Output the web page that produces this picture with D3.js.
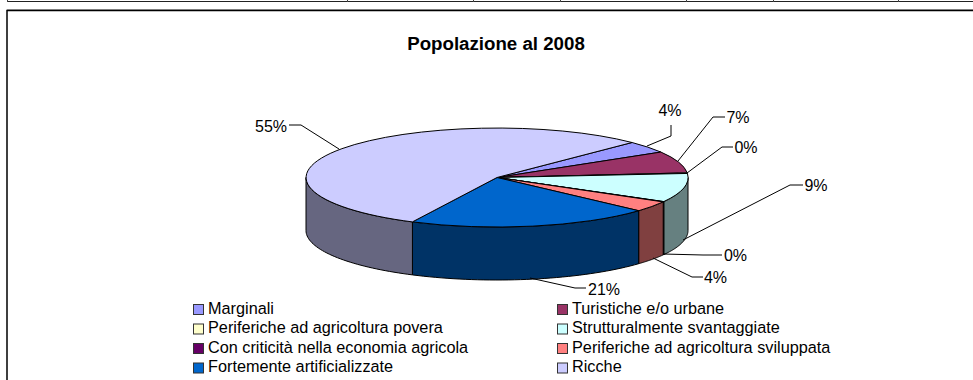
<!DOCTYPE html>
<html>
<head>
  <meta charset="UTF-8">
  <title>Popolazione al 2008</title>
  <script src="https://d3js.org/d3.v7.min.js"></script>
  <style>
    html, body { margin: 0; padding: 0; background: #fff; }
    svg { display: block; }
    text { font-family: "Liberation Sans", Arial, sans-serif; fill: #000; }
  </style>
</head>
<body>
<div class="chart"></div>

<script>
  var categories = ['Marginali', 'Turistiche e/o urbane', 'Periferiche ad agricoltura povera',
    'Strutturalmente svantaggiate', 'Con criticità nella economia agricola',
    'Periferiche ad agricoltura sviluppata', 'Fortemente artificializzate', 'Ricche'];
  var values = [3.9, 7.1, 0.2, 9.4, 0.1, 3.5, 20.6, 55.2];
  var labels = ['4%', '7%', '0%', '9%', '0%', '4%', '21%', '55%'];
  var topColors = ['#9999ff', '#993366', '#ffffcc', '#ccffff', '#660066', '#ff8080', '#0066cc', '#ccccff'];
  var wallColors = ['#666680', '#4d1a33', '#808066', '#668080', '#330033', '#804040', '#003366', '#666680'];

  var width = 973, height = 380;
  var cx = 497, cy = 177.5, rx = 191, ry = 49.5, depth = 53;

  var svg = d3.select('.chart').append('svg')
    .attr('width', width)
    .attr('height', height);

  // table cut off at the top of the page
  var tableTicks = [7, 347, 473, 560, 686, 773, 898];
  svg.append('rect').attr('x', 7).attr('y', 1).attr('width', 966).attr('height', 1).attr('fill', '#222');
  svg.selectAll('.tick').data(tableTicks).enter().append('rect')
    .attr('class', 'tick')
    .attr('x', d => d).attr('y', 0).attr('width', 1).attr('height', 2).attr('fill', '#444');

  // chart frame, grey edge above the black one
  svg.append('rect').attr('x', 7).attr('y', 9).attr('width', 966).attr('height', 1).attr('fill', '#aaa');
  svg.append('path')
    .attr('d', 'M7,380V10.5H973')
    .attr('fill', 'none').attr('stroke', '#000').attr('stroke-width', 1.5);

  svg.append('text')
    .attr('x', 496).attr('y', 50)
    .attr('text-anchor', 'middle')
    .style('font-size', '18.7px').style('font-weight', 'bold')
    .text('Popolazione al 2008');

  // pie angles, clockwise from 12 o'clock, first slice starts at 45 degrees
  var start = Math.PI / 4;
  var pie = d3.pie().sort(null).startAngle(start).endAngle(start + 2 * Math.PI);
  var slices = pie(values).map((s, i) => ({ startAngle: s.startAngle, endAngle: s.endAngle, index: i }));

  var px = d3.scaleLinear().domain([-1, 1]).range([cx - rx, cx + rx]);
  var py = d3.scaleLinear().domain([-1, 1]).range([cy - ry, cy + ry]);
  var pt = (a, dy) => [px(Math.sin(a)), py(-Math.cos(a)) + dy];

  // walls: only the front half of the rim (90 to 270 degrees) shows
  var frontFrom = Math.PI / 2, frontTo = 3 * Math.PI / 2;
  var rim = d3.line();
  function wallPath(s) {
    var a0 = Math.max(s.startAngle, frontFrom), a1 = Math.min(s.endAngle, frontTo);
    if (a1 <= a0) return null;
    var steps = d3.range(0, 41).map(k => a0 + (a1 - a0) * k / 40);
    var top = steps.map(a => pt(a, 0));
    var bottom = steps.slice().reverse().map(a => pt(a, depth));
    return rim(top.concat(bottom)) + 'Z';
  }

  svg.selectAll('.wall').data(slices.filter(s => wallPath(s))).enter().append('path')
    .attr('class', 'wall')
    .attr('d', wallPath)
    .attr('fill', d => wallColors[d.index])
    .attr('stroke', '#000').attr('stroke-width', 1).attr('stroke-linejoin', 'round');

  // top face: unit arc squashed into the ellipse
  var arc = d3.arc().innerRadius(0).outerRadius(1);
  svg.selectAll('.top').data(slices).enter().append('path')
    .attr('class', 'top')
    .attr('d', arc)
    .attr('transform', `translate(${cx},${cy}) scale(${rx},${ry})`)
    .attr('vector-effect', 'non-scaling-stroke')
    .attr('fill', d => topColors[d.index])
    .attr('stroke', '#000').attr('stroke-width', 1).attr('stroke-linejoin', 'round');

  // data labels with leader lines
  var leaders = [
    [[647, 146], [671, 136], [671, 125]],
    [[678, 161], [713, 117], [725, 117]],
    [[687, 173], [722, 147], [733, 147]],
    [[683, 240], [790, 185], [803, 185]],
    [[663, 254], [703, 255], [722, 255]],
    [[653, 258], [692, 277], [703, 277]],
    [[530, 278], [575, 288], [586, 288]],
    [[339, 149], [301, 125], [289, 125]]
  ];
  var leaderLine = d3.line();
  svg.selectAll('.leader').data(leaders).enter().append('path')
    .attr('class', 'leader')
    .attr('d', d => leaderLine(d))
    .attr('fill', 'none').attr('stroke', '#000').attr('stroke-width', 1);

  var labelX = [670, 738, 746, 816, 735.5, 715.5, 604, 271];
  var labelY = [110, 117, 147, 185, 255, 277, 289, 126];
  svg.selectAll('.lab').data(labels).enter().append('text')
    .attr('class', 'lab')
    .attr('x', (d, i) => labelX[i]).attr('y', (d, i) => labelY[i])
    .attr('dy', '0.36em')
    .attr('text-anchor', 'middle')
    .style('font-size', '16px')
    .text(d => d);

  // legend, two columns
  var legendX = [193, 557], legendY = [308, 327.5, 347, 366.5];
  var legend = svg.selectAll('.legend').data(categories).enter().append('g')
    .attr('class', 'legend')
    .attr('transform', (d, i) => `translate(${legendX[i % 2]},${legendY[Math.floor(i / 2)]})`);
  legend.append('rect')
    .attr('x', 0.5).attr('y', -3.5).attr('width', 10).attr('height', 10)
    .attr('fill', (d, i) => topColors[i])
    .attr('stroke', '#333');
  legend.append('text')
    .attr('x', 15).attr('dy', '0.36em')
    .style('font-size', '16.25px')
    .text(d => d);
</script>
</body>
</html>
